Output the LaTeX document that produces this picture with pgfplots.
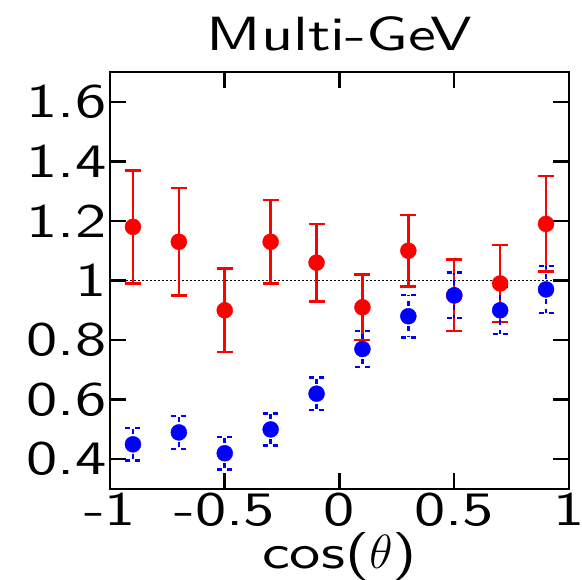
\documentclass[border=0pt]{standalone}
\usepackage{fix-cm}
\usepackage{fontspec}
\setsansfont{lmsans10-regular.otf}[FakeStretch=1.3]
\usepackage{pgfplots}
\pgfplotsset{compat=1.18}
\usetikzlibrary{calc}
\begin{document}
\begin{tikzpicture}
\begin{axis}[
  scale only axis, width=459pt, height=417pt,
  xmin=-1, xmax=1, ymin=0.3, ymax=1.7,
  xtick={-1,-0.5,0,0.5,1}, xticklabels={-1,-0.5,0,0.5,1},
  ytick={0.4,0.6,0.8,1,1.2,1.4,1.6}, yticklabels={0.4,0.6,0.8,1,1.2,1.4,1.6},
  tick align=inside, major tick length=16pt, minor tick num=0,
  axis line style={line width=2.5pt},
  every tick/.style={line width=2.5pt, black},
  font=\fontsize{48}{50}\selectfont\sffamily,
  title={Multi-GeV}, title style={yshift=11pt},
  xlabel={cos($\theta$)},
  clip=false,
]
\addplot[black, line width=1pt, dash pattern=on 2pt off 2pt] coordinates {(-0.93,1) (0.93,1)};
\addplot[red, only marks, mark=*, mark size=8pt, mark options={solid, fill=red, draw=red},
  error bars/.cd, y dir=both, y explicit,
  error bar style={line width=2.5pt, solid},
  error mark options={rotate=90, mark size=8pt, line width=2.5pt, solid, red}]
  table[x index=0, y index=1, y error index=2] {
  -0.9 1.18 0.19
  -0.7 1.13 0.18
  -0.5 0.90 0.14
  -0.3 1.13 0.14
  -0.1 1.06 0.13
   0.1 0.91 0.11
   0.3 1.10 0.12
   0.5 0.95 0.12
   0.7 0.99 0.13
   0.9 1.19 0.16
};
\addplot[blue, only marks, mark=*, mark size=8pt, mark options={solid, fill=blue, draw=blue},
  error bars/.cd, y dir=both, y explicit,
  error bar style={line width=2.5pt, dash pattern=on 5pt off 5pt},
  error mark options={rotate=90, mark size=7.5pt, line width=2.5pt, dash pattern=on 5pt off 5pt, blue}]
  table[x index=0, y index=1, y error index=2] {
  -0.9 0.45 0.055
  -0.7 0.49 0.055
  -0.5 0.42 0.054
  -0.3 0.50 0.054
  -0.1 0.62 0.055
   0.1 0.77 0.060
   0.3 0.88 0.071
   0.5 0.95 0.076
   0.7 0.90 0.080
   0.9 0.97 0.079
};
\coordinate (bl) at (rel axis cs:0,0);
\coordinate (tr) at (rel axis cs:1,1);
\end{axis}
\pgfresetboundingbox
\path[use as bounding box] ($(bl)+(-110pt,-91pt)$) rectangle ($(tr)+(13pt,72pt)$);
\end{tikzpicture}
\end{document}
